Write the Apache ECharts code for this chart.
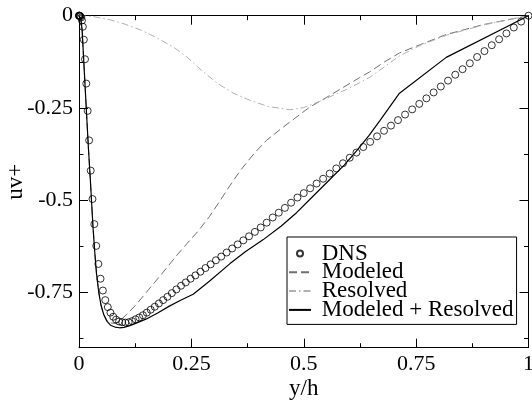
<!DOCTYPE html>
<html>
<head>
<meta charset="utf-8">
<script src="https://cdn.jsdelivr.net/npm/echarts@6/dist/echarts.min.js"></script>
<style>html,body{margin:0;padding:0;background:#fff}#c{width:532px;height:403px}</style>
</head>
<body>
<div id="c"></div>
<script>
// ---- data ----
const dnsX = [0,0.0001,0.0005,0.0012,0.0021,0.0033,0.0048,0.0066,0.0086,0.0108,0.0134,0.0162,0.0192,0.0225,0.0261,0.0300,0.0341,0.0384,0.0431,0.0479,0.0531,0.0585,0.0641,0.0700,0.0761,0.0825,0.0891,0.0960,0.1031,0.1105,0.1181,0.1259,0.1340,0.1423,0.1508,0.1595,0.1685,0.1777,0.1872,0.1968,0.2066,0.2167,0.2270,0.2375,0.2482,0.2590,0.2701,0.2814,0.2929,0.3046,0.3164,0.3284,0.3407,0.3530,0.3656,0.3783,0.3912,0.4043,0.4175,0.4309,0.4444,0.4581,0.4719,0.4859,0.5000,0.5142,0.5286,0.5431,0.5577,0.5724,0.5873,0.6023,0.6173,0.6325,0.6478,0.6631,0.6786,0.6941,0.7097,0.7254,0.7412,0.7570,0.7729,0.7889,0.8049,0.8210,0.8371,0.8533,0.8695,0.8857,0.9020,0.9183,0.9346,0.9509,0.9673,0.9836,1.0000];
const dnsUV = [0,0,-0.0001,-0.0003,-0.0008,-0.002,-0.005,-0.013,-0.030,-0.065,-0.118,-0.184,-0.258,-0.338,-0.420,-0.497,-0.565,-0.624,-0.673,-0.713,-0.745,-0.771,-0.790,-0.805,-0.816,-0.824,-0.829,-0.831,-0.832,-0.831,-0.828,-0.823,-0.818,-0.812,-0.805,-0.797,-0.789,-0.780,-0.771,-0.762,-0.752,-0.742,-0.732,-0.723,-0.713,-0.704,-0.694,-0.684,-0.674,-0.663,-0.653,-0.642,-0.631,-0.620,-0.609,-0.598,-0.586,-0.574,-0.561,-0.547,-0.534,-0.521,-0.507,-0.493,-0.481,-0.468,-0.455,-0.442,-0.428,-0.414,-0.400,-0.385,-0.371,-0.356,-0.342,-0.327,-0.312,-0.298,-0.283,-0.268,-0.254,-0.239,-0.224,-0.208,-0.192,-0.176,-0.160,-0.145,-0.129,-0.112,-0.096,-0.080,-0.064,-0.048,-0.032,-0.016,0];

const modeledX = [0,0.004,0.007,0.010,0.0135,0.017,0.021,0.025,0.028,0.031,0.035,0.039,0.044,0.049,0.055,0.062,0.07,0.08,0.09,0.106,0.125,0.143,0.16,0.18,0.2,0.22,0.24,0.265,0.29,0.313,0.336,0.36,0.39,0.417,0.45,0.476,0.513,0.55,0.58,0.624,0.647,0.68,0.713,0.76,0.817,0.9,1];
const modeledUV = [0,-0.008,-0.04,-0.11,-0.19,-0.27,-0.36,-0.44,-0.505,-0.57,-0.64,-0.70,-0.75,-0.785,-0.81,-0.826,-0.833,-0.834,-0.828,-0.81,-0.786,-0.76,-0.735,-0.706,-0.676,-0.646,-0.618,-0.584,-0.545,-0.503,-0.460,-0.418,-0.373,-0.338,-0.306,-0.282,-0.248,-0.222,-0.200,-0.168,-0.152,-0.125,-0.101,-0.078,-0.051,-0.024,0];

const resolvedX = [0,0.03,0.069,0.1,0.136,0.17,0.21,0.24,0.276,0.31,0.345,0.38,0.42,0.469,0.5,0.536,0.565,0.595,0.624,0.647,0.68,0.713,0.76,0.817,0.9,1];
const resolvedUV = [0,-0.002,-0.011,-0.022,-0.038,-0.058,-0.085,-0.112,-0.152,-0.185,-0.211,-0.229,-0.246,-0.255,-0.249,-0.232,-0.216,-0.200,-0.182,-0.167,-0.138,-0.109,-0.08,-0.053,-0.025,0];

const totalX = [0,0.004,0.007,0.010,0.0135,0.017,0.021,0.025,0.028,0.031,0.035,0.039,0.044,0.049,0.055,0.062,0.07,0.08,0.09,0.10,0.113,0.13,0.15,0.175,0.2,0.225,0.254,0.29,0.336,0.37,0.41,0.45,0.484,0.52,0.558,0.59,0.617,0.645,0.669,0.713,0.817,1];
const totalUV = [0,-0.008,-0.04,-0.11,-0.19,-0.27,-0.36,-0.44,-0.505,-0.57,-0.64,-0.70,-0.75,-0.785,-0.81,-0.828,-0.839,-0.844,-0.846,-0.845,-0.840,-0.832,-0.822,-0.806,-0.788,-0.772,-0.755,-0.72,-0.672,-0.64,-0.607,-0.57,-0.534,-0.49,-0.444,-0.405,-0.367,-0.325,-0.285,-0.21,-0.113,0];

const seriesNames = ['DNS','Modeled','Resolved','Modeled + Resolved'];
const xTickValues = [0,0.25,0.5,0.75,1];
const xTickLabels = ['0','0.25','0.5','0.75','1'];
const yTickValues = [0,-0.25,-0.5,-0.75];
const yTickLabels = ['0','-0.25','-0.5','-0.75'];
const yMinorTickValues = [-0.125,-0.375,-0.625,-0.875];

// ---- chart ----
const zip = (xs, ys) => xs.map((x, i) => [x, ys[i]]);
const FONT = 'Liberation Serif';
const BLACK = '#000';

function xAxisDef(pos, showLabel) {
  return {
    type: 'value', min: 0, max: 1, interval: 0.25, position: pos,
    axisLine: { show: true, onZero: false, lineStyle: { color: BLACK, width: 1 } },
    axisTick: { show: true, inside: true, length: 9, lineStyle: { color: BLACK, width: 1 } },
    minorTick: { show: true, splitNumber: 2, length: 4.5, lineStyle: { color: BLACK, width: 1 } },
    splitLine: { show: false }, minorSplitLine: { show: false },
    axisLabel: {
      show: showLabel, color: BLACK, fontFamily: FONT, fontSize: 22, margin: 6,
      formatter: v => { const i = xTickValues.findIndex(t => Math.abs(t - v) < 1e-9); return i >= 0 ? xTickLabels[i] : ''; }
    },
    name: showLabel ? 'y/h' : '', nameLocation: 'middle', nameGap: 30, nameMoveOverlap: false,
    nameTextStyle: { color: BLACK, fontFamily: FONT, fontSize: 23 }
  };
}
function yAxisDef(pos, ticks, len, showLine, showLabel) {
  return {
    type: 'value', min: -0.9, max: 0, position: pos, offset: 0,
    axisLine: { show: showLine, onZero: false, lineStyle: { color: BLACK, width: 1 } },
    axisTick: { show: true, inside: true, length: len, customValues: ticks, lineStyle: { color: BLACK, width: 1 } },
    splitLine: { show: false },
    axisLabel: {
      show: showLabel, customValues: yTickValues, color: BLACK, fontFamily: FONT, fontSize: 22, margin: 6,
      formatter: v => { const i = yTickValues.findIndex(t => Math.abs(t - v) < 1e-9); return i >= 0 ? yTickLabels[i] : ''; }
    },
    name: showLabel ? 'uv+' : '', nameLocation: 'middle', nameGap: 52, nameRotate: 90, nameMoveOverlap: false,
    nameTextStyle: { color: BLACK, fontFamily: FONT, fontSize: 23 }
  };
}

const hiddenSym = { color: 'rgba(0,0,0,0)', borderWidth: 0, opacity: 0 };

const chart = echarts.init(document.getElementById('c'), null, { renderer: 'canvas' });
chart.setOption({
  animation: false,
  backgroundColor: '#fff',
  grid: { left: 79, right: 3.5, top: 15.7, bottom: 55.3, containLabel: false, outerBoundsMode: 'none' },
  xAxis: [xAxisDef('bottom', true), xAxisDef('top', false)],
  yAxis: [
    yAxisDef('left', yTickValues, 9, true, true),
    yAxisDef('left', yMinorTickValues, 4.5, false, false),
    yAxisDef('right', yTickValues, 9, true, false),
    yAxisDef('right', yMinorTickValues, 4.5, false, false)
  ],
  legend: {
    orient: 'vertical', left: 287, top: 237,
    data: [
      { name: seriesNames[0] },
      { name: seriesNames[1], itemStyle: hiddenSym },
      { name: seriesNames[2], itemStyle: hiddenSym },
      { name: seriesNames[3], itemStyle: hiddenSym }
    ],
    itemGap: -4.2, itemWidth: 22, itemHeight: 6,
    padding: [5, 3, 3, 1],
    borderColor: BLACK, borderWidth: 1, backgroundColor: '#fff',
    formatter: n => ' ' + n,
    textStyle: { color: BLACK, fontFamily: FONT, fontSize: 23, lineHeight: 20.5 },
    selectedMode: false
  },
  series: [
    {
      name: seriesNames[1], type: 'line', data: zip(modeledX, modeledUV), symbol: 'none',
      lineStyle: { color: '#707070', width: 1, type: [8, 4] }, itemStyle: { color: '#707070' }, z: 2
    },
    {
      name: seriesNames[2], type: 'line', data: zip(resolvedX, resolvedUV), symbol: 'none',
      lineStyle: { color: '#b0b0b0', width: 1, type: [7, 3, 1.5, 3] }, itemStyle: { color: '#b0b0b0' }, z: 2
    },
    {
      name: seriesNames[3], type: 'line', data: zip(totalX, totalUV), symbol: 'none',
      lineStyle: { color: BLACK, width: 1.2 }, itemStyle: { color: BLACK }, z: 3
    },
    {
      name: seriesNames[0], type: 'scatter', data: zip(dnsX, dnsUV), symbol: 'circle', symbolSize: 7,
      itemStyle: { color: 'rgba(0,0,0,0)', borderColor: BLACK, borderWidth: 1 }, z: 4
    }
  ]
});
</script>
</body>
</html>
